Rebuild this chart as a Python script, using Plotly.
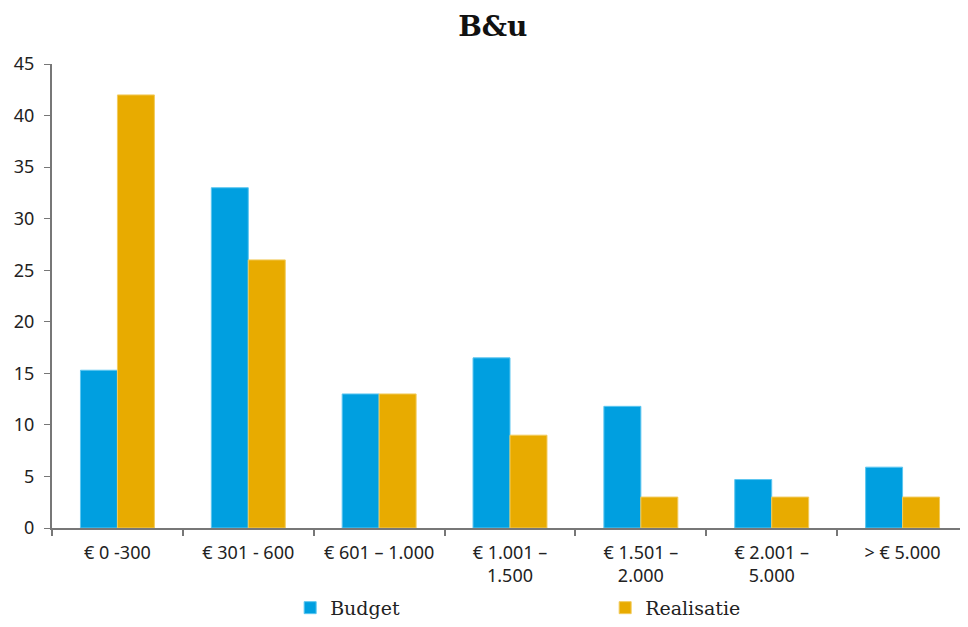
import plotly.graph_objects as go

categories = ["€ 0 -300", "€ 301 - 600", "€ 601 – 1.000", "€ 1.001 –<br>1.500",
              "€ 1.501 –<br>2.000", "€ 2.001 –<br>5.000", "> € 5.000"]
budget = [15.3, 33, 13, 16.5, 11.8, 4.7, 5.9]
realisatie = [42, 26, 13, 9, 3, 3, 3]

fig = go.Figure()
fig.add_trace(go.Bar(x=categories, y=budget, name="Budget",
                     marker=dict(color="#009FE0", line=dict(color="#5CC6F0", width=1))))
fig.add_trace(go.Bar(x=categories, y=realisatie, name="Realisatie",
                     marker=dict(color="#E8AB00", line=dict(color="#F2CB5C", width=1))))

# page has an 8px body margin, so the figure is sized to fit inside it
fig.update_layout(
    width=960, height=619,
    barmode="group", bargap=0.435, bargroupgap=0,
    plot_bgcolor="white", paper_bgcolor="white",
    margin=dict(l=44, r=0, t=56, b=99),
    title=dict(text="<b>B&u</b>", x=0.505, xanchor="center", y=0.97, yanchor="middle",
               font=dict(family="DejaVu Serif", size=28, color="#111")),
    font=dict(family="Noto Sans", size=18, color="#222"),
    legend=dict(orientation="h", x=0.26, xanchor="left", y=-0.172, yanchor="middle",
                entrywidth=270, entrywidthmode="pixels", itemwidth=30,
                font=dict(family="DejaVu Serif", size=19)),
    xaxis=dict(showline=True, linecolor="#777", linewidth=2, ticks="outside",
               tickson="boundaries", ticklen=6, tickcolor="#777", tickwidth=2,
               ticklabelstandoff=7, tickfont=dict(size=18)),
    yaxis=dict(range=[0, 45], dtick=5, showgrid=False, zeroline=False, showline=True,
               linecolor="#777", linewidth=2, ticks="outside", ticklen=6,
               tickcolor="#777", tickwidth=1, ticklabelstandoff=6,
               tickfont=dict(size=18)),
)

fig.write_html("out.html")
